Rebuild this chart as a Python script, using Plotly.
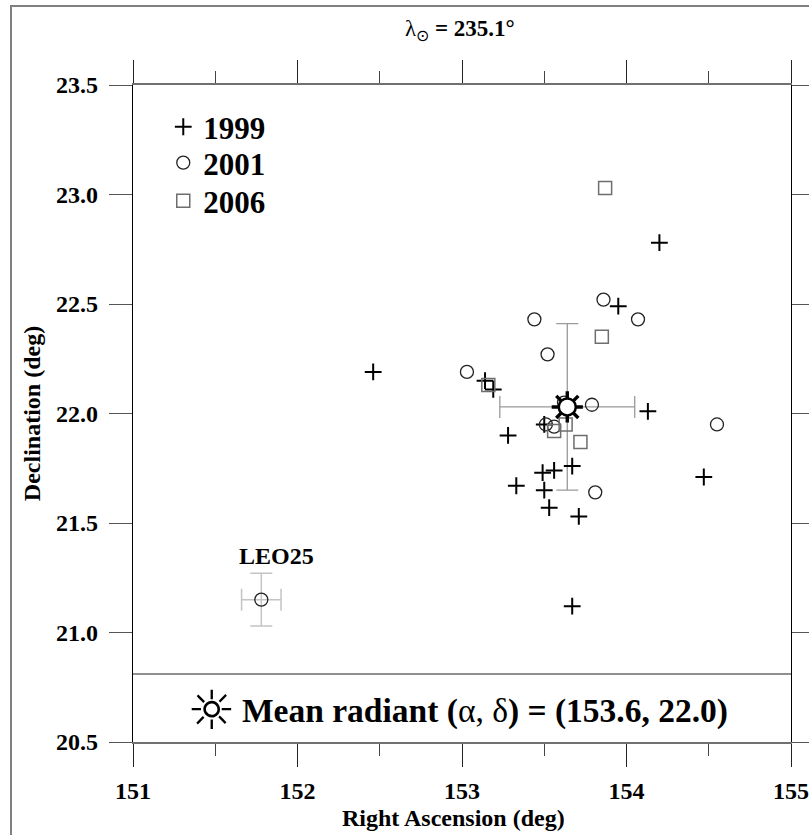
import plotly.graph_objects as go

# ---------------- data ----------------
ra_1999 = [152.46, 153.14, 153.19, 153.28, 153.33, 153.49, 153.56, 153.50, 153.53,
           153.67, 153.71, 153.67, 153.95, 154.13, 154.20, 154.47, 153.50]
dec_1999 = [22.19, 22.15, 22.11, 21.90, 21.67, 21.73, 21.74, 21.65, 21.57,
            21.76, 21.53, 21.12, 22.49, 22.01, 22.78, 21.71, 21.95]

ra_2001 = [153.03, 153.44, 153.52, 153.86, 154.07, 153.62, 153.79, 153.51, 153.56, 153.81, 154.55]
dec_2001 = [22.19, 22.43, 22.27, 22.52, 22.43, 22.05, 22.04, 21.95, 21.94, 21.64, 21.95]

ra_2006 = [153.87, 153.85, 153.16, 153.56, 153.63, 153.72]
dec_2006 = [23.03, 22.35, 22.13, 21.92, 21.95, 21.87]

mean_ra = [153.64]
mean_dec = [22.03]
mean_ra_err = [0.41]
mean_dec_err = [0.38]

leo_ra = [151.78]
leo_dec = [21.15]
leo_ra_err = [0.12]
leo_dec_err = [0.12]

x_ticks = [151, 152, 153, 154, 155]
y_ticks = [20.5, 21.0, 21.5, 22.0, 22.5, 23.0, 23.5]
y_tick_labels = ["20.5", "21.0", "21.5", "22.0", "22.5", "23.0", "23.5"]
separator_dec = 20.81

FONT = "Liberation Serif, Times New Roman, serif"

fig = go.Figure()

# error bars (behind the points)
fig.add_trace(go.Scatter(
    x=mean_ra, y=mean_dec, mode="markers", showlegend=False, hoverinfo="skip",
    marker=dict(size=1, color="rgba(0,0,0,0)"),
    error_x=dict(type="data", array=mean_ra_err, color="#9a9a9a", thickness=1.3, width=11),
    error_y=dict(type="data", array=mean_dec_err, color="#9a9a9a", thickness=1.3, width=11),
))
fig.add_trace(go.Scatter(
    x=leo_ra, y=leo_dec, mode="markers", showlegend=False,
    marker=dict(symbol="circle-open", size=13, color="#222", line=dict(width=1.3, color="#222")),
    error_x=dict(type="data", array=leo_ra_err, color="#c4c4c4", thickness=1.5, width=11),
    error_y=dict(type="data", array=leo_dec_err, color="#c4c4c4", thickness=1.5, width=11),
))

fig.add_trace(go.Scatter(
    x=ra_1999, y=dec_1999, mode="markers", name="1999", legend="legend",
    marker=dict(symbol="cross-thin-open", size=12, color="black", line=dict(width=2, color="black")),
))
fig.add_trace(go.Scatter(
    x=ra_2001, y=dec_2001, mode="markers", name="2001", legend="legend2",
    marker=dict(symbol="circle-open", size=13, color="#222", line=dict(width=1.3, color="#222")),
))
fig.add_trace(go.Scatter(
    x=ra_2006, y=dec_2006, mode="markers", name="2006", legend="legend3",
    marker=dict(symbol="square-open", size=13, color="#6e6e6e", line=dict(width=1.5, color="#6e6e6e")),
))

# mean radiant "sun" symbol
fig.add_trace(go.Scatter(
    x=mean_ra, y=mean_dec, mode="markers", showlegend=False,
    marker=dict(symbol="asterisk-open", size=26, color="black", line=dict(width=3.4, color="black")),
))
fig.add_trace(go.Scatter(
    x=mean_ra, y=mean_dec, mode="markers", showlegend=False,
    marker=dict(symbol="circle", size=17, color="white", line=dict(width=2.5, color="black")),
))

leg_font = dict(family=FONT, size=31, weight="bold")
leg_common = dict(xanchor="left", yanchor="top", font=leg_font,
                  bgcolor="rgba(0,0,0,0)", borderwidth=0)

fig.update_layout(
    width=809, height=835,
    margin=dict(l=133, r=18, t=85, b=93, autoexpand=False),
    paper_bgcolor="white", plot_bgcolor="white",
    font=dict(family=FONT, color="black"),
    legend=dict(x=0.046, y=0.977, **leg_common),
    legend2=dict(x=0.046, y=0.9224, **leg_common),
    legend3=dict(x=0.046, y=0.8645, **leg_common),
    xaxis=dict(
        range=[151, 155], tickvals=x_ticks, ticktext=[str(v) for v in x_ticks],
        showgrid=False, zeroline=False, automargin=False,
        showline=True, linecolor="#707070", linewidth=1.5, mirror="ticks",
        ticks="outside", ticklen=23, tickwidth=1.3, tickcolor="#222",
        minor=dict(dtick=0.5, ticks="outside", ticklen=12, tickwidth=1.3, tickcolor="#444"),
        tickfont=dict(family=FONT, size=24, weight="bold"),
        ticklabelstandoff=3,
    ),
    yaxis=dict(
        range=[20.5, 23.5], tickvals=y_ticks, ticktext=y_tick_labels,
        showgrid=False, zeroline=False, automargin=False,
        showline=True, linecolor="black", linewidth=1.3, mirror="ticks",
        ticks="outside", ticklen=23, tickwidth=1.3, tickcolor="#555",
        tickfont=dict(family=FONT, size=24, weight="bold"),
        ticklabelstandoff=6,
        title=dict(text="Declination (deg)", font=dict(family=FONT, size=24, weight="bold"), standoff=8),
    ),
    shapes=[
        dict(type="rect", xref="paper", yref="paper", x0=-0.1854, x1=1.2, y0=-0.3, y1=1.1202,
             line=dict(color="#808080", width=2), fillcolor="rgba(0,0,0,0)", layer="below"),
        dict(type="line", xref="paper", yref="y", x0=0, x1=1, y0=separator_dec, y1=separator_dec,
             line=dict(color="#6a6a6a", width=1.5)),
    ],
    annotations=[
        dict(xref="paper", yref="paper", x=0.497, y=1.0837, xanchor="center", yanchor="middle",
             showarrow=False, text="λ<sub>⊙</sub> <b>= 235.1°</b>",
             font=dict(family=FONT, size=23, color="black")),
        dict(xref="paper", yref="paper", x=(453 - 133) / 658, y=(742 - 818) / 657,
             xanchor="center", yanchor="middle", showarrow=False,
             text="<b>Right Ascension (deg)</b>",
             font=dict(family=FONT, size=24, color="black")),
        dict(xref="paper", yref="paper", x=(211 - 133) / 658, y=0.0472, xanchor="center", yanchor="middle",
             showarrow=False, text="☼",
             font=dict(family="DejaVu Sans", size=54, color="black")),
        dict(xref="paper", yref="paper", x=(240 - 133) / 658, y=0.0472, xanchor="left", yanchor="middle",
             showarrow=False,
             text="<b>Mean radiant (</b>α, δ<b>) = (153.6, 22.0)</b>",
             font=dict(family=FONT, size=33.5, color="black")),
        dict(xref="x", yref="y", x=leo_ra[0], y=leo_dec[0], xshift=15, yshift=44,
             showarrow=False, text="<b>LEO25</b>",
             font=dict(family=FONT, size=24, color="black")),
    ],
)

fig.write_html("out.html")
